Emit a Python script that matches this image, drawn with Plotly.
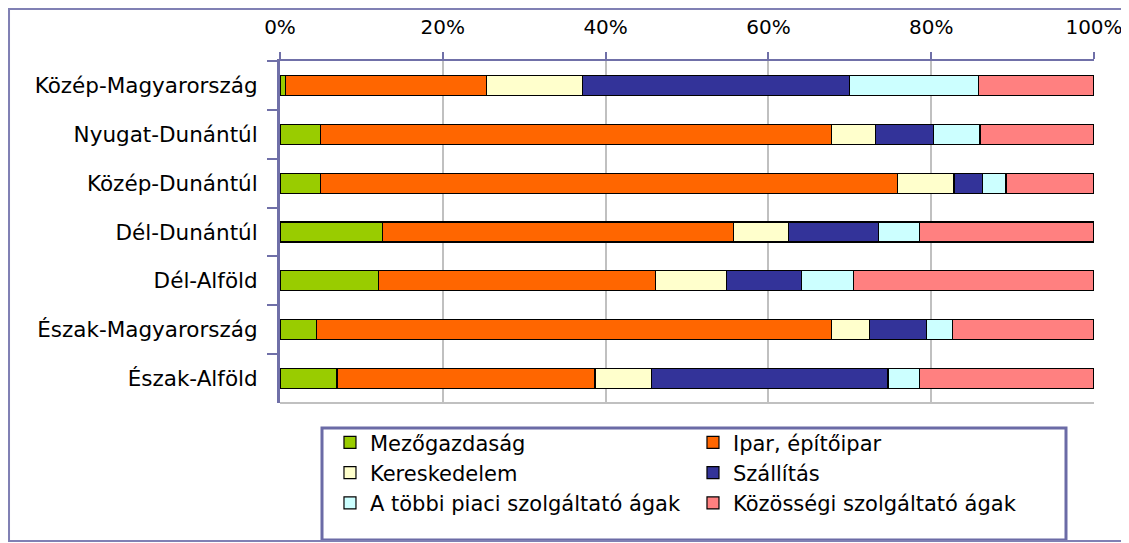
import plotly.graph_objects as go

regions = ["Közép-Magyarország", "Nyugat-Dunántúl", "Közép-Dunántúl", "Dél-Dunántúl",
           "Dél-Alföld", "Észak-Magyarország", "Észak-Alföld"]

mezogazdasag = [0.7, 5.0, 5.0, 12.6, 12.1, 4.5, 7.0]
ipar = [24.7, 62.8, 70.9, 43.1, 34.0, 63.3, 31.7]
kereskedelem = [11.8, 5.4, 6.9, 6.8, 8.8, 4.6, 6.9]
szallitas = [32.8, 7.1, 3.5, 11.0, 9.2, 7.0, 29.1]
tobbi_piaci = [15.8, 5.7, 2.9, 5.1, 6.4, 3.2, 3.9]
kozossegi = [14.2, 14.0, 10.8, 21.4, 29.5, 17.4, 21.4]

series_names = ["Mezőgazdaság", "Ipar, építőipar", "Kereskedelem", "Szállítás",
                "A többi piaci szolgáltató ágak", "Közösségi szolgáltató ágak"]
series_values = [mezogazdasag, ipar, kereskedelem, szallitas, tobbi_piaci, kozossegi]
colors = ["#99CC00", "#FF6600", "#FFFFCC", "#333399", "#CCFFFF", "#FF8080"]

tick_vals = [0, 20, 40, 60, 80, 100]
tick_text = ["0%", "20%", "40%", "60%", "80%", "100%"]

AXIS = "#7070A8"
FONT = "DejaVu Sans, sans-serif"

fig = go.Figure()
for name, vals, col in zip(series_names, series_values, colors):
    fig.add_trace(go.Bar(
        y=regions, x=vals, name=name, orientation="h",
        marker=dict(color=col, line=dict(color="#000000", width=1.2)),
    ))

# the page body adds an 8px offset, so the figure is 8px smaller and margins compensate
fig.update_layout(
    template="none",
    barmode="stack", barnorm="percent", bargap=0.59,
    width=1121, height=535, autosize=False,
    margin=dict(l=272, r=35, t=53, b=140, pad=0, autoexpand=False),
    paper_bgcolor="white", plot_bgcolor="white",
    font=dict(family=FONT, color="#000000"),
    showlegend=True,
    legend=dict(
        orientation="h", x=0.0614, xanchor="left", y=-0.056, yanchor="top",
        entrywidth=318, entrywidthmode="pixels",
        bgcolor="rgba(0,0,0,0)", borderwidth=0,
        font=dict(family=FONT, size=21, color="#000000"),
        traceorder="normal",
    ),
    xaxis=dict(
        side="top", range=[0, 100], tickvals=tick_vals, ticktext=tick_text,
        showgrid=True, gridcolor="#C0C0C0", gridwidth=2,
        showline=True, linecolor=AXIS, linewidth=2,
        ticks="outside", ticklen=7, tickwidth=2, tickcolor=AXIS,
        tickfont=dict(family=FONT, size=20, color="#000000"),
        ticklabelstandoff=10, zeroline=False, fixedrange=True, automargin=False,
    ),
    yaxis=dict(
        autorange="reversed", showgrid=False,
        showline=True, linecolor=AXIS, linewidth=3,
        ticks="outside", tickson="boundaries", ticklen=10, tickwidth=2, tickcolor=AXIS,
        tickfont=dict(family=FONT, size=21.5, color="#000000"),
        ticklabelstandoff=15, zeroline=False, fixedrange=True, automargin=False,
    ),
    shapes=[
        # bottom edge of plot area
        dict(type="line", xref="paper", yref="paper", x0=0, x1=1, y0=0, y1=0,
             line=dict(color="#C0C0C0", width=2), layer="below"),
        # legend box
        dict(type="rect", xref="paper", yref="paper",
             x0=0.0516, x1=0.9656, y0=-0.4006, y1=-0.0731,
             line=dict(color="#6B6BA6", width=3), fillcolor="rgba(0,0,0,0)"),
        # outer chart frame
        dict(type="rect", xref="paper", yref="paper",
             x0=-0.3329, x1=1.1, y0=-0.4035, y1=1.152,
             line=dict(color="#8080B4", width=2), fillcolor="rgba(0,0,0,0)"),
    ],
)

fig.write_html("out.html")
